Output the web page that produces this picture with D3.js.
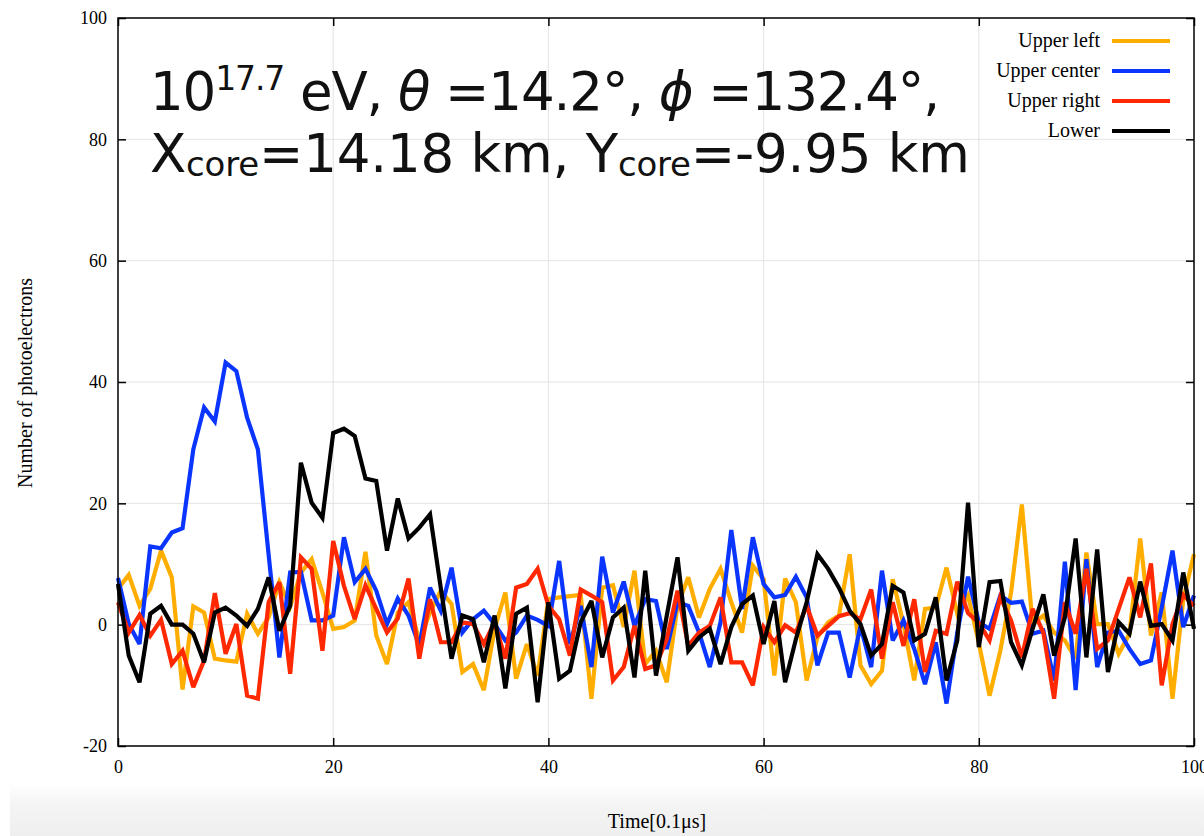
<!DOCTYPE html>
<html>
<head>
<meta charset="utf-8">
<script src="https://cdn.jsdelivr.net/npm/d3@7"></script>
<style>
  body { margin: 0; background: #fff; }
  svg { display: block; }
</style>
</head>
<body>
<div id="plot"></div>
<script>
const w = 1204;
const h = 836;
const margin = { top: 18, right: 10, bottom: 90, left: 118 };
const innerWidth = 1194 - margin.left;
const innerHeight = 746 - margin.top;

// time bins 0..100 (units of 0.1 us)
const time = d3.range(0, 101);

const upperLeft = [5.9, 8.2, 3.1, 5.9, 12.2, 7.8, -10.7, 3.0, 2.0, -5.6,
  -5.9, -6.1, 1.8, -1.5, 1.2, 7.0, 3.0, 8.6, 10.8, 5.3,
  -0.7, -0.4, 0.7, 12.0, -1.8, -6.5, 2.0, 3.7, -2.6, 2.0,
  5.6, 3.4, -7.8, -6.5, -10.8, -0.7, 5.3, -8.9, -3.2, -8.4,
  4.2, 4.5, 4.7, 4.9, -12.2, 6.1, 6.5, -0.4, 8.9, -6.5,
  -4.3, -9.5, 3.1, 7.8, 1.2, 5.9, 9.2, 3.7, -1.3, 9.7,
  7.5, -8.4, 7.6, 3.7, -9.2, -2.1, 0.4, 1.5, 11.6, -6.7,
  -9.8, -7.6, 7.5, 0.1, -9.2, 2.6, 2.8, 9.4, 1.8, 4.8,
  -3.0, -11.7, -4.3, 5.3, 19.8, 0.1, 1.5, -1.3, -2.6, -5.6,
  11.9, 0.1, 0.1, -4.8, -1.5, 14.2, -1.8, 5.3, -12.2, 4.2,
  11.6];

const upperCenter = [7.7, 0.1, -3.2, 12.9, 12.6, 15.2, 15.9, 28.9, 35.8, 33.5,
  43.2, 41.8, 34.1, 28.9, 11.5, -5.4, 8.6, 8.7, 0.7, 0.7,
  1.5, 14.4, 7.0, 9.2, 5.6, 0.1, 4.3, 1.5, -3.5, 6.1,
  2.3, 9.4, -1.3, 0.9, 2.3, 0.1, -2.6, -1.3, 1.5, 0.8,
  -0.2, 10.5, -3.2, 3.1, -7.0, 11.2, 2.0, 7.1, -0.2, 4.2,
  3.9, -4.0, 3.7, 3.1, -1.3, -7.0, 0.4, 15.6, 2.6, 14.4,
  6.7, 4.5, 4.9, 7.9, 4.5, -6.7, -1.3, -1.3, -8.7, -0.2,
  -7.0, 8.9, -2.6, 0.7, -4.0, -9.8, -2.9, -13.0, -1.3, 7.9,
  0.4, -0.7, 4.8, 3.6, 3.8, -1.5, -1.0, -9.2, 10.4, -10.8,
  10.8, -7.0, -1.3, -1.0, -4.0, -6.5, -5.9, 2.8, 12.2, -0.4,
  4.8];

const upperRight = [3.7, -1.3, 1.6, -1.8, 0.8, -6.5, -4.3, -10.3, -5.9, 5.2,
  -4.8, 0.1, -11.7, -12.2, 3.7, 7.0, -8.1, 11.1, 9.2, -4.3,
  13.8, 6.4, 0.9, 6.5, 2.6, -1.3, 1.0, 7.6, -5.6, 4.2,
  -2.9, -2.9, 0.4, 0.1, -3.2, 0.4, -5.6, 6.1, 6.7, 9.2,
  3.1, 0.9, -5.1, 5.8, 4.8, 3.7, -9.2, -7.0, -0.2, -7.3,
  -6.7, -2.4, 5.6, -3.5, -1.3, -0.2, 4.5, -6.2, -6.2, -10.0,
  -0.4, -2.9, -0.1, -1.3, 3.1, -1.8, -0.2, 1.4, 1.9, 0.9,
  5.8, -5.6, 3.7, -3.5, 4.2, -7.8, -1.0, -1.5, 7.1, 1.9,
  0.3, -2.6, 4.5, 0.7, -5.4, 2.6, -1.3, -12.2, 3.7, -1.5,
  9.2, -4.0, -2.6, 2.6, 7.8, 1.2, 10.1, -10.0, 0.1, 4.9,
  3.1];

const lower = [6.7, -5.1, -9.5, 1.8, 3.1, 0.0, 0.0, -1.5, -6.2, 2.0,
  2.8, 1.5, -0.2, 2.6, 7.8, -1.0, 3.1, 26.7, 20.1, 17.6,
  31.6, 32.3, 31.1, 24.1, 23.7, 12.2, 20.8, 14.2, 16.0, 18.2,
  6.0, -5.6, 1.5, 0.9, -6.2, 1.5, -10.5, 1.8, 2.8, -12.8,
  3.7, -8.9, -7.6, 0.4, 3.9, -5.4, 1.2, 2.8, -8.7, 8.9,
  -8.4, 1.5, 11.1, -4.3, -2.1, -0.7, -6.5, -0.4, 3.4, 4.8,
  -3.2, 3.9, -9.5, -2.4, 3.7, 11.6, 9.2, 6.1, 2.3, 0.1,
  -5.1, -3.2, 6.4, 5.3, -2.6, -1.5, 4.5, -9.2, -2.6, 20.1,
  -3.7, 7.0, 7.2, -2.9, -6.7, -0.7, 5.0, -5.1, 1.2, 14.2,
  -5.4, 12.4, -7.8, 0.4, -1.5, 7.1, -0.2, 0.1, -2.6, 8.6,
  -0.7];

const seriesNames = ["Upper left", "Upper center", "Upper right", "Lower"];
const seriesColors = ["#ffae00", "#0a35ff", "#ff2800", "#000000"];
const seriesValues = [upperLeft, upperCenter, upperRight, lower];

const xTicks = [0, 20, 40, 60, 80, 100];
const yTicks = [-20, 0, 20, 40, 60, 80, 100];

const svg = d3.select("div#plot")
  .append("svg")
  .attr("width", w)
  .attr("height", h);

// faint grey band at the bottom of the screenshot
const grad = svg.append("defs").append("linearGradient")
  .attr("id", "band")
  .attr("x1", 0).attr("y1", 0).attr("x2", 0).attr("y2", 1);
grad.append("stop").attr("offset", "0%").attr("stop-color", "#ffffff");
grad.append("stop").attr("offset", "40%").attr("stop-color", "#f4f4f4");
grad.append("stop").attr("offset", "100%").attr("stop-color", "#efefef");
svg.append("rect")
  .attr("x", 10).attr("y", 784)
  .attr("width", w - 10).attr("height", h - 784)
  .attr("fill", "url(#band)");

const xScale = d3.scaleLinear()
  .domain([0, 100])
  .range([0, innerWidth]);

const yScale = d3.scaleLinear()
  .domain([-20, 100])
  .range([innerHeight, 0]);

const plotGroup = svg.append("g")
  .attr("transform", `translate(${margin.left}, ${margin.top})`);

// grid
plotGroup.append("g")
  .selectAll("line")
  .data(xTicks.slice(1, -1))
  .enter()
  .append("line")
  .attr("x1", d => xScale(d)).attr("x2", d => xScale(d))
  .attr("y1", 0).attr("y2", innerHeight)
  .attr("stroke", "#e3e3e3").attr("stroke-width", 1);

plotGroup.append("g")
  .selectAll("line")
  .data(yTicks.slice(1, -1))
  .enter()
  .append("line")
  .attr("x1", 0).attr("x2", innerWidth)
  .attr("y1", d => yScale(d)).attr("y2", d => yScale(d))
  .attr("stroke", "#e3e3e3").attr("stroke-width", 1);

// lines
const line = d3.line()
  .x((d, i) => xScale(time[i]))
  .y(d => yScale(d));

plotGroup.append("g")
  .selectAll("path")
  .data(seriesValues)
  .enter()
  .append("path")
  .attr("d", line)
  .attr("fill", "none")
  .attr("stroke", (d, i) => seriesColors[i])
  .attr("stroke-width", 4.2)
  .attr("stroke-linejoin", "miter")
  .attr("stroke-miterlimit", 3);

// axes with inward ticks, mirrored on top and right
const fontSerif = "'Liberation Serif', 'DejaVu Serif', serif";
const plain = d => String(d);

const xAxis = d3.axisBottom(xScale).tickValues(xTicks).tickSize(-8).tickPadding(14).tickFormat(plain);
const yAxis = d3.axisLeft(yScale).tickValues(yTicks).tickSize(-8).tickPadding(11).tickFormat(plain);

const gx = plotGroup.append("g")
  .attr("transform", `translate(0, ${innerHeight})`)
  .call(xAxis);
const gy = plotGroup.append("g").call(yAxis);

plotGroup.append("g")
  .call(d3.axisTop(xScale).tickValues(xTicks).tickSize(-8).tickFormat(""));
plotGroup.append("g")
  .attr("transform", `translate(${innerWidth}, 0)`)
  .call(d3.axisRight(yScale).tickValues(yTicks).tickSize(-8).tickFormat(""));

plotGroup.selectAll(".domain").remove();
plotGroup.selectAll(".tick line").attr("stroke", "#000").attr("stroke-width", 1.5);
[gx, gy].forEach(g => g.selectAll("text")
  .attr("font-family", fontSerif)
  .attr("font-size", "18px")
  .attr("fill", "#000"));

plotGroup.append("rect")
  .attr("x", 0).attr("y", 0)
  .attr("width", innerWidth).attr("height", innerHeight)
  .attr("fill", "none")
  .attr("stroke", "#000")
  .attr("stroke-width", 1.5);

// axis titles
svg.append("text")
  .attr("x", 657)
  .attr("y", 828)
  .attr("text-anchor", "middle")
  .attr("font-family", fontSerif)
  .attr("font-size", "20px")
  .text("Time[0.1\u03bcs]");

svg.append("text")
  .attr("transform", "rotate(-90)")
  .attr("x", -383)
  .attr("y", 32)
  .attr("text-anchor", "middle")
  .attr("font-family", fontSerif)
  .attr("font-size", "20px")
  .text("Number of photoelectrons");

// legend
const legend = svg.append("g");
seriesNames.forEach((name, i) => {
  const ly = 41 + i * 30;
  legend.append("text")
    .attr("x", 1100)
    .attr("y", ly + 6)
    .attr("text-anchor", "end")
    .attr("font-family", fontSerif)
    .attr("font-size", "20px")
    .text(name);
  legend.append("line")
    .attr("x1", 1112).attr("x2", 1170)
    .attr("y1", ly).attr("y2", ly)
    .attr("stroke", seriesColors[i])
    .attr("stroke-width", 4);
});

// event annotation
const fontSans = "'DejaVu Sans', 'Noto Sans', sans-serif";
const ann1 = svg.append("text")
  .attr("x", 150).attr("y", 110)
  .attr("font-family", fontSans)
  .attr("font-size", "53px")
  .attr("fill", "#111")
  .attr("textLength", 790)
  .attr("lengthAdjust", "spacing");
ann1.append("tspan").text("10");
ann1.append("tspan").attr("font-size", "33px").attr("dy", -20).text("17.7");
ann1.append("tspan").attr("dy", 20).text(" eV, ");
ann1.append("tspan").attr("font-style", "italic").text("\u03b8");
ann1.append("tspan").text(" =14.2\u00b0, ");
ann1.append("tspan").attr("font-style", "italic").text("\u03d5");
ann1.append("tspan").text(" =132.4\u00b0,");

const ann2 = svg.append("text")
  .attr("x", 150).attr("y", 172)
  .attr("font-family", fontSans)
  .attr("font-size", "53px")
  .attr("fill", "#111")
  .attr("textLength", 820)
  .attr("lengthAdjust", "spacing");
ann2.append("tspan").text("X");
ann2.append("tspan").attr("font-size", "34px").attr("dy", 4).text("core");
ann2.append("tspan").attr("dy", -4).text("=14.18 km, Y");
ann2.append("tspan").attr("font-size", "34px").attr("dy", 4).text("core");
ann2.append("tspan").attr("dy", -4).text("=-9.95 km");
</script>
</body>
</html>
